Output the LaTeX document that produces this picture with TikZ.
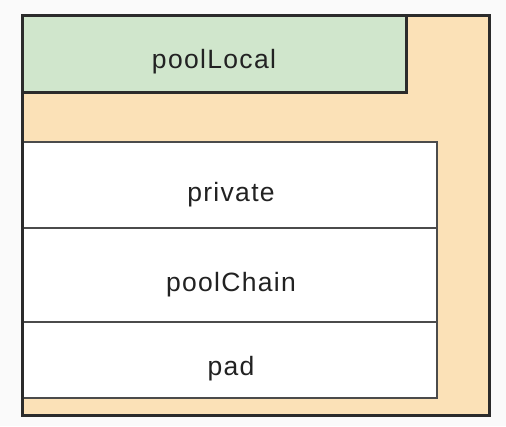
\documentclass[tikz,border=0pt]{standalone}
\usepackage{fontspec}
\setmainfont{Liberation Sans}[LetterSpace=5]
\definecolor{bgc}{HTML}{FAFAFA}
\definecolor{orangec}{HTML}{FBE1B7}
\definecolor{greenc}{HTML}{D0E6CC}
\definecolor{edgec}{HTML}{2B2B2B}
\definecolor{textc}{HTML}{222222}
\tikzset{
  lbl/.style={anchor=base, font=\fontsize{26.5}{30}\selectfont, text=textc, inner sep=0pt},
  cellbox/.style={draw=edgec!85, line width=1.6pt, fill=white},
}
\begin{document}
\begin{tikzpicture}[x=1pt,y=-1pt]
\fill[bgc] (0,0) rectangle (506,426);
\useasboundingbox (0,0) rectangle (506,426);
% outer container
\draw[edgec, line width=3pt, fill=orangec] (22,15) rectangle (489,415);
% poolLocal header
\draw[edgec, line width=3pt, fill=greenc] (22,15) rectangle (406,92);
\node[lbl] (poolLocal) at (214,68) {poolLocal};
% cells
\draw[cellbox] (22,142) rectangle (437,228);
\draw[cellbox] (22,228) rectangle (437,322);
\draw[cellbox] (22,322) rectangle (437,398);
\draw[edgec, line width=3pt] (22,15) -- (22,415);
\node[lbl] (private) at (231,201.5) {private};
\node[lbl] (poolChain) at (231,291.5) {poolChain};
\node[lbl] (pad) at (231,375) {pad};
\end{tikzpicture}
\end{document}
